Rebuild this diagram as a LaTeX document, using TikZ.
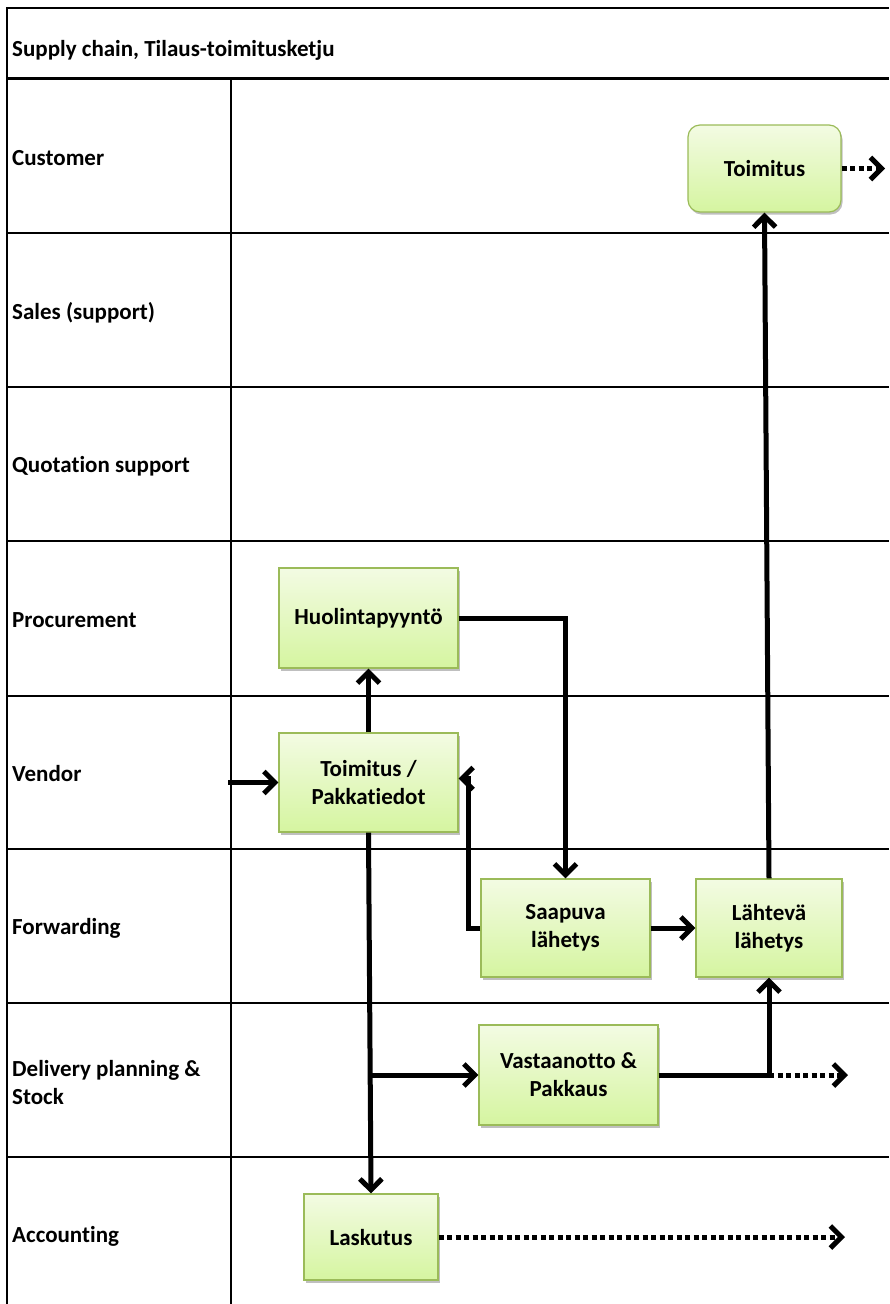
\documentclass[tikz,border=0pt]{standalone}
\usepackage{fontspec}
\setmainfont{Carlito}[Ligatures=NoCommon]
\usetikzlibrary{arrows.meta, shadows, positioning}
\definecolor{boxline}{HTML}{9BBB59}
\definecolor{boxtop}{HTML}{F3FBE3}
\definecolor{boxbottom}{HTML}{D5F5A0}

\begin{document}
\begin{tikzpicture}[x=1pt, y=-1pt,
  font=\fontsize{23}{28}\selectfont\bfseries,
  lane/.style={line width=1.5pt},
  task/.style={draw=boxline, line width=1.2pt, top color=boxtop, bottom color=boxbottom,
    align=center, inner sep=0pt,
    drop shadow={shadow xshift=1.5pt, shadow yshift=-2.5pt, opacity=0.25, fill=black}},
  flow/.style={line width=5pt, -{Straight Barb[length=11pt, width=22pt]}},
  later/.style={flow, dash pattern=on 5pt off 3.5pt}]
  \useasboundingbox (0,0) rectangle (889,1304);
  % frame and lanes
  \draw[lane] (7,1304) -- (7,8) -- (889,8);
  \draw[line width=3pt] (7,78) -- (889,78);
  \draw[line width=2pt] (231,78) -- (231,1304);
  \foreach \y in {233,387,541,696,849,1003}
    \draw[lane] (7,\y) -- (889,\y);
  \draw[line width=2pt] (7,1157) -- (889,1157);
  \node[anchor=west, inner sep=0pt] (title) at (12,50) {Supply chain, Tilaus-toimitusketju};
  \foreach \y/\txt in {158/Customer, 313/{Sales (support)}, 466/{Quotation support},
      620/Procurement, 774/Vendor, 928/Forwarding, 1082/{Delivery planning \&\\Stock},
      1236/Accounting}
    \node[anchor=west, align=left, inner sep=0pt] (lane\y) at (12,\y) {\txt};

  % boxes
  \node[task, rounded corners=12pt, minimum width=153pt, minimum height=87pt]
    (toimitus) at (764.5,168.5) {Toimitus};
  \node[task, minimum width=179pt, minimum height=100pt] (huolinta) at (368.5,618) {Huolintapyyntö};
  \node[task, minimum width=179pt, minimum height=99pt] (pakka) at (368.5,782.5) {Toimitus /\\Pakkatiedot};
  \node[task, minimum width=169pt, minimum height=98pt] (saapuva) at (565.5,928) {Saapuva\\lähetys};
  \node[task, minimum width=146pt, minimum height=98pt] (lahteva) at (769,928) {Lähtevä\\lähetys};
  \node[task, minimum width=179pt, minimum height=100pt] (vastaanotto) at (568.5,1075) {Vastaanotto \&\\Pakkaus};
  \node[task, minimum width=134pt, minimum height=86pt] (laskutus) at (371,1237) {Laskutus};

  % loose ends
  \coordinate (vendorin) at (228,782.5);
  \coordinate (split) at (pakka.south |- vastaanotto.west);
  \coordinate (turn) at (vastaanotto.east -| lahteva.south);
  \coordinate (customerout) at (885,168.5);
  \coordinate (stockout) at (848,1075);
  \coordinate (invoiceout) at (845,1237);

  % arrows
  \draw[flow] (vendorin) -- (pakka.west);
  \draw[flow] (pakka.north) -- (huolinta.south);
  \draw[flow] (huolinta.east) -| (saapuva.north);
  \draw[flow] (saapuva.west) -- ++(-12,0) |- ([yshift=4pt]pakka.east);
  \draw[flow] (saapuva.east) -- (lahteva.west);
  \draw[flow] (lahteva.north) -- (toimitus.south);
  \draw[flow] (pakka.south) -- (laskutus.north);
  \draw[flow] (split) -- (vastaanotto.west);
  \draw[flow] (vastaanotto.east) -| (lahteva.south);
  \draw[later] (turn) -- (stockout);
  \draw[later] (toimitus.east) -- (customerout);
  \draw[later] (laskutus.east) -- (invoiceout);
\end{tikzpicture}
\end{document}
